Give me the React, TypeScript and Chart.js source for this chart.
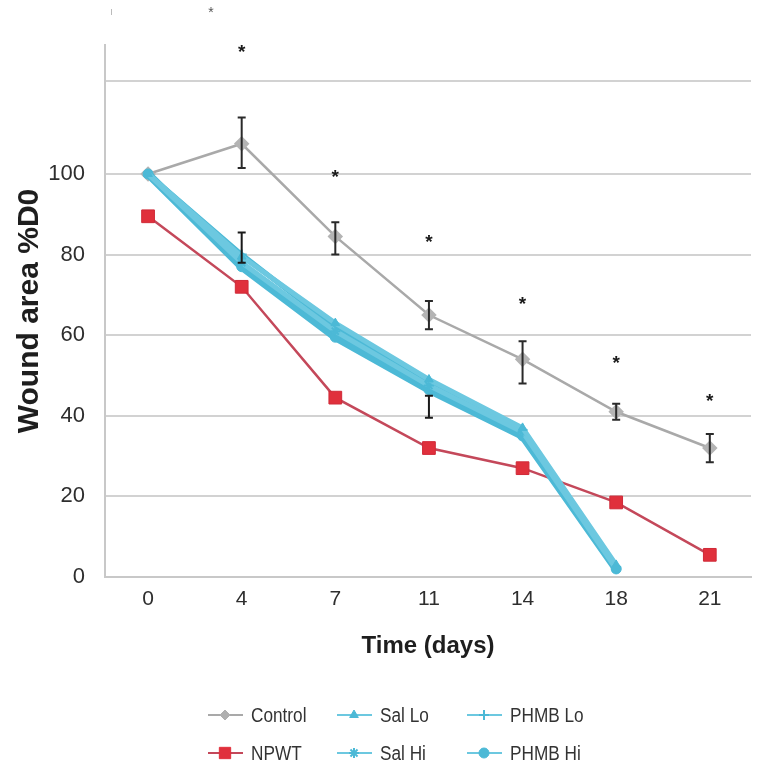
import React, { useEffect, useRef } from "react";
import { Chart, registerables } from "chart.js";
import { drawPoint } from "chart.js/helpers";
Chart.register(...registerables);

// ---- data ----
const days = ["0", "4", "7", "11", "14", "18", "21"];
const control = [100, 107.5, 84.5, 65, 54, 41, 32];
const controlHi = [null, 114, 88, 68.5, 58.5, 43, 35.5];
const controlLo = [null, 101.5, 80, 61.5, 48, 39, 28.5];
const npwt = [89.5, 72, 44.5, 32, 27, 18.5, 5.5];
const salLo = [100, 79.5, 63, 49, 37, 3, null];
const salHi = [100, 78, 61, 47.5, 36, 2, null];
const phmbLo = [100, 80, 62, 48, 36.5, 2.5, null];
const phmbHi = [100, 77, 59.5, 46.5, 35, 2, null];
const blueHi = [null, 85.5, null, 45, null, null, null];
const blueLo = [null, 78, null, 39.5, null, null, null];
const sigY = [null, 131, 100, 84, 68.5, 54, 44.5];
const yTicks = [0, 20, 40, 60, 80, 100, 123];

const GRAY = "#a9a9a9";
const RED_LINE = "#c4485a";
const RED = "#e0303c";
const BLUE = "#4cb9d6";
const BLUE_L = "#6cc8e0";
const SANS = "'Liberation Sans', Arial, sans-serif";

const toXY = (arr: (number | null)[]) => arr.map((v, i) => ({ x: i, y: v }));

const legendItems = [
  { label: "Control", color: GRAY, fill: "#b0b0b0", style: "rectRot", col: 0, row: 0 },
  { label: "NPWT", color: RED_LINE, fill: RED, style: "rect", col: 0, row: 1 },
  { label: "Sal Lo", color: BLUE_L, fill: BLUE, style: "triangle", col: 1, row: 0 },
  { label: "Sal Hi", color: BLUE_L, fill: BLUE, style: "star", col: 1, row: 1 },
  { label: "PHMB Lo", color: BLUE_L, fill: BLUE, style: "cross", col: 2, row: 0 },
  { label: "PHMB Hi", color: BLUE_L, fill: BLUE, style: "circle", col: 2, row: 1 },
];

const overlayPlugin = {
  id: "overlay",
  afterDatasetsDraw(chart: any) {
    const ctx = chart.ctx;
    const xs = chart.scales.x;
    const ys = chart.scales.y;
    ctx.save();
    const bar = (i: number, hi: number, lo: number, color: string) => {
      const x = xs.getPixelForValue(i);
      const yh = ys.getPixelForValue(hi);
      const yl = ys.getPixelForValue(lo);
      ctx.strokeStyle = color;
      ctx.lineWidth = 2;
      ctx.beginPath();
      ctx.moveTo(x, yh);
      ctx.lineTo(x, yl);
      ctx.moveTo(x - 4, yh);
      ctx.lineTo(x + 4, yh);
      ctx.moveTo(x - 4, yl);
      ctx.lineTo(x + 4, yl);
      ctx.stroke();
    };
    days.forEach((_, i) => {
      if (controlHi[i] != null) bar(i, controlHi[i] as number, controlLo[i] as number, "#2a2a2a");
      if (blueHi[i] != null) bar(i, blueHi[i] as number, blueLo[i] as number, "#1a1a1a");
    });
    ctx.fillStyle = "#1a1a1a";
    ctx.font = "bold 19px " + SANS;
    ctx.textAlign = "center";
    ctx.textBaseline = "middle";
    days.forEach((_, i) => {
      if (sigY[i] != null) ctx.fillText("*", xs.getPixelForValue(i), ys.getPixelForValue(sigY[i] as number) + 4);
    });
    ctx.restore();
  },
  afterDraw(chart: any) {
    const ctx = chart.ctx;
    ctx.save();
    // stray marks at top
    ctx.fillStyle = "#555";
    ctx.font = "14px " + SANS;
    ctx.textAlign = "center";
    ctx.textBaseline = "middle";
    ctx.fillText("*", 211, 13);
    ctx.fillStyle = "#bbb";
    ctx.fillRect(111, 9, 1, 6);
    // legend
    const colX = [208, 337, 467];
    const rowY = [715, 753];
    legendItems.forEach((it) => {
      const x0 = colX[it.col];
      const y = rowY[it.row];
      ctx.strokeStyle = it.color;
      ctx.lineWidth = 2;
      ctx.beginPath();
      ctx.moveTo(x0, y);
      ctx.lineTo(x0 + 35, y);
      ctx.stroke();
      const r = it.style === "rect" ? 8 : 5;
      ctx.fillStyle = it.fill;
      ctx.strokeStyle = it.fill;
      ctx.lineWidth = it.style === "cross" || it.style === "star" ? 2 : 1;
      drawPoint(ctx, { pointStyle: it.style, radius: r, borderWidth: ctx.lineWidth, rotation: 0 } as any, x0 + 17, y);
      ctx.save();
      ctx.translate(x0 + 43, y + 1);
      ctx.scale(0.86, 1);
      ctx.fillStyle = "#333";
      ctx.font = "20px " + SANS;
      ctx.textAlign = "left";
      ctx.textBaseline = "middle";
      ctx.fillText(it.label, 0, 0);
      ctx.restore();
    });
    ctx.restore();
  },
};

export default function App() {
  const ref = useRef<HTMLCanvasElement | null>(null);
  useEffect(() => {
    document.body.style.margin = "0";
    if (!ref.current) return;
    const blueDs = (label: string, data: (number | null)[], style: string, w: number, color: string) => ({
      label,
      data: toXY(data),
      borderColor: color,
      backgroundColor: BLUE,
      borderWidth: w,
      pointStyle: style,
      pointRadius: 5,
      pointBorderColor: BLUE,
      pointBackgroundColor: BLUE,
      pointBorderWidth: style === "cross" || style === "star" ? 2 : 1,
      spanGaps: false,
    });
    const chart = new Chart(ref.current, {
      type: "line",
      data: {
        datasets: [
          blueDs("Sal Lo", salLo, "triangle", 5, BLUE_L),
          blueDs("Sal Hi", salHi, "star", 5, BLUE_L),
          blueDs("PHMB Lo", phmbLo, "cross", 5, BLUE),
          blueDs("PHMB Hi", phmbHi, "circle", 8, BLUE),
          {
            label: "NPWT",
            data: toXY(npwt),
            borderColor: RED_LINE,
            borderWidth: 2.5,
            pointStyle: "rect",
            pointRadius: 9,
            pointBackgroundColor: RED,
            pointBorderColor: "#d02a38",
            pointBorderWidth: 1,
          },
          {
            label: "Control",
            data: toXY(control),
            borderColor: GRAY,
            borderWidth: 2.5,
            pointStyle: "rectRot",
            pointRadius: 6,
            pointBackgroundColor: "#b4b4b4",
            pointBorderColor: "#b4b4b4",
          },
        ] as any,
      },
      options: {
        animation: false,
        responsive: false,
        events: [],
        layout: { padding: { top: 45, right: 16, bottom: 109, left: 0 } },
        plugins: { legend: { display: false }, tooltip: { enabled: false } },
        scales: {
          x: {
            type: "linear",
            min: -0.46,
            max: 6.44,
            afterBuildTicks: (axis: any) => {
              axis.ticks = days.map((_, i) => ({ value: i }));
            },
            afterFit: (s: any) => {
              s.height = 88;
            },
            grid: { display: false, drawTicks: false },
            border: { display: true, color: "#c8c8c8", width: 2 },
            ticks: {
              callback: (v: any) => days[v as number],
              font: { family: SANS, size: 21 },
              color: "#2e2e2e",
              padding: 10,
              maxRotation: 0,
            },
            title: {
              display: true,
              text: "Time (days)",
              font: { family: SANS, size: 24, weight: "bold" },
              color: "#1e1e1e",
              padding: { top: 0, bottom: 4 },
            },
          },
          y: {
            min: 0,
            max: 132,
            afterBuildTicks: (axis: any) => {
              axis.ticks = yTicks.map((v) => ({ value: v }));
            },
            afterFit: (s: any) => {
              s.width = 105;
            },
            grid: { color: "#d2d2d2", lineWidth: 2, drawTicks: false },
            border: { display: true, color: "#c8c8c8", width: 2 },
            ticks: {
              callback: (v: any) => (v === 123 ? "" : String(v)),
              font: { family: SANS, size: 22 },
              color: "#2e2e2e",
              padding: 20,
            },
            title: {
              display: true,
              text: "Wound area %D0",
              font: { family: SANS, size: 30, weight: "bold" },
              color: "#1e1e1e",
              padding: { top: 12, bottom: 0 },
            },
          },
        },
      } as any,
      plugins: [overlayPlugin],
    });
    return () => chart.destroy();
  }, []);
  return (
    <div style={{ width: 767, height: 774, background: "#fff" }}>
      <canvas ref={ref} width={767} height={774} style={{ display: "block" }} />
    </div>
  );
}
